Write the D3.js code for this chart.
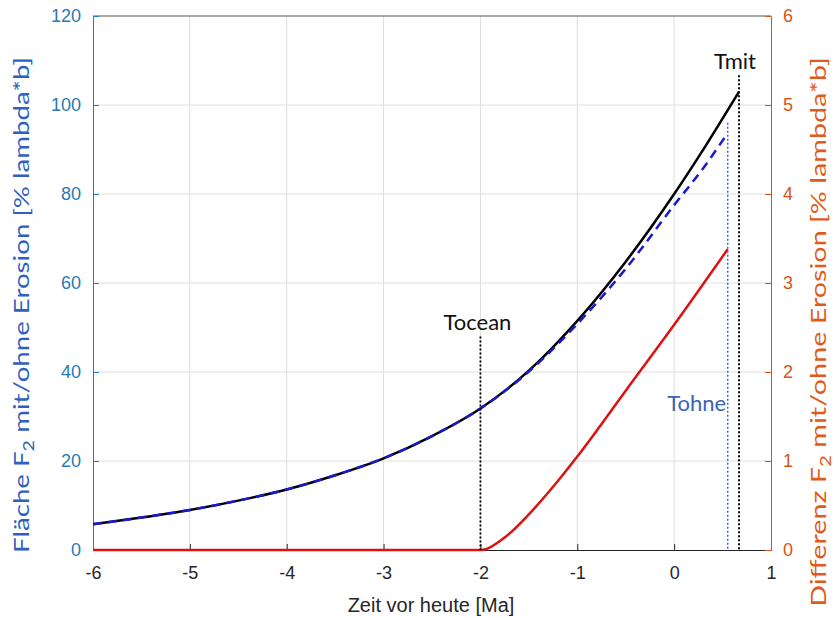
<!DOCTYPE html>
<html>
<head>
<meta charset="utf-8">
<script src="https://cdn.jsdelivr.net/npm/d3@7"></script>
<style>
  body { margin: 0; background: #fff; }
  svg { display: block; }
</style>
</head>
<body>
<svg id="chart" width="833" height="619"></svg>
<script>
// ---- data ----
const xTicks = [-6, -5, -4, -3, -2, -1, 0, 1];
const yLeftTicks = [0, 20, 40, 60, 80, 100, 120];
const yRightTicks = [0, 1, 2, 3, 4, 5, 6];

// Fläche mit Erosion (black, solid)
const mitX = [-6, -5.5, -5, -4.5, -4, -3.5, -3, -2.5, -2, -1.5, -1, -0.5, 0, 0.33, 0.67];
const mitY = [5.8, 7.3, 9.0, 11.1, 13.6, 16.8, 20.6, 25.6, 31.8, 40.3, 51.5, 64.8, 80, 91, 103];

// Fläche ohne Erosion (blue, dashed)
const ohneX = [-6, -5.5, -5, -4.5, -4, -3.5, -3, -2.5, -2, -1.5, -1, -0.5, 0, 0.3, 0.553];
const ohneY = [5.8, 7.3, 9.0, 11.1, 13.6, 16.8, 20.6, 25.6, 31.8, 40.1, 50.8, 63.2, 77.5, 85.8, 93.7];

// Differenz (red, right axis)
const diffX = [-6, -5, -4, -3, -2, -1.75, -1.5, -1.25, -1, -0.5, 0, 0.553];
const diffY = [0, 0, 0, 0, 0, 0.14, 0.40, 0.71, 1.05, 1.79, 2.53, 3.38];

// markers
const markerNames = ["Tocean", "Tohne", "Tmit"];
const markerX = [-2, 0.553, 0.67];
const markerTop = [48, 96, 106.7];   // left-axis units where dotted lines end

// ---- layout ----
const svg = d3.select("#chart");
const L = 93, R = 771, T = 16, B = 550;
const x = d3.scaleLinear().domain([-6, 1]).range([L, R]);
const yL = d3.scaleLinear().domain([0, 120]).range([B, T]);
const yR = d3.scaleLinear().domain([0, 6]).range([B, T]);

const font = "'Liberation Sans', Arial, sans-serif";
const font2 = "Lato, 'Open Sans', sans-serif";
const leftCol = "#2a7ab5";
const rightCol = "#d95319";

// grid
const grid = svg.append("g");
grid.selectAll(".gx").data(xTicks.slice(1, -1)).enter().append("line")
  .attr("x1", d => x(d)).attr("x2", d => x(d)).attr("y1", T).attr("y2", B)
  .attr("stroke", "#dedede").attr("stroke-width", 1);
grid.selectAll(".gy").data(yLeftTicks.slice(1, -1)).enter().append("line")
  .attr("x1", L).attr("x2", R).attr("y1", d => yL(d)).attr("y2", d => yL(d))
  .attr("stroke", "#dedede").attr("stroke-width", 1);

// box top line
svg.append("line").attr("x1", L).attr("x2", R).attr("y1", T).attr("y2", T)
  .attr("stroke", "#555").attr("stroke-width", 1);

// axes
const xAxis = svg.append("g").attr("transform", `translate(0,${B})`)
  .call(d3.axisBottom(x).tickValues(xTicks).tickSize(-6).tickPadding(16).tickFormat(d3.format("d")));
xAxis.select(".domain").attr("stroke", "#262626");
xAxis.selectAll(".tick line").attr("stroke", "#262626");
xAxis.selectAll("text").attr("font-family", font).attr("font-size", 18).attr("fill", "#262626")
  .text(d => d < 0 ? "-" + Math.abs(d) : d);

const yAxisL = svg.append("g").attr("transform", `translate(${L},0)`)
  .call(d3.axisLeft(yL).tickValues(yLeftTicks).tickSize(-6).tickPadding(12).tickFormat(d3.format("d")));
yAxisL.select(".domain").attr("stroke", leftCol);
yAxisL.selectAll(".tick line").attr("stroke", leftCol);
yAxisL.selectAll("text").attr("font-family", font).attr("font-size", 18).attr("fill", leftCol);

const yAxisR = svg.append("g").attr("transform", `translate(${R},0)`)
  .call(d3.axisRight(yR).tickValues(yRightTicks).tickSize(-6).tickPadding(12).tickFormat(d3.format("d")));
yAxisR.select(".domain").attr("stroke", rightCol);
yAxisR.selectAll(".tick line").attr("stroke", rightCol);
yAxisR.selectAll("text").attr("font-family", font).attr("font-size", 18).attr("fill", rightCol);

// curves
const lineL = d3.line().x(d => x(d[0])).y(d => yL(d[1])).curve(d3.curveMonotoneX);
const lineR = d3.line().x(d => x(d[0])).y(d => yR(d[1])).curve(d3.curveMonotoneX);

svg.append("path").datum(diffX.map((v, i) => [v, diffY[i]]))
  .attr("d", lineR).attr("fill", "none").attr("stroke", "#dd1111").attr("stroke-width", 2.5);

svg.append("path").datum(mitX.map((v, i) => [v, mitY[i]]))
  .attr("d", lineL).attr("fill", "none").attr("stroke", "#000").attr("stroke-width", 2.5);

svg.append("path").datum(ohneX.map((v, i) => [v, ohneY[i]]))
  .attr("d", lineL).attr("fill", "none").attr("stroke", "#1a1acc").attr("stroke-width", 2.5)
  .attr("stroke-dasharray", "9,6");

// marker lines
const mColors = ["#000", "#4466cc", "#000"];
const mWidths = [1.8, 1.5, 2];
markerNames.forEach((n, i) => {
  svg.append("line").attr("x1", x(markerX[i])).attr("x2", x(markerX[i]))
    .attr("y1", yL(markerTop[i])).attr("y2", B)
    .attr("stroke", mColors[i]).attr("stroke-width", mWidths[i]).attr("stroke-dasharray", "2,2");
});

// marker labels
svg.append("text").attr("x", x(-2) - 3).attr("y", 330).attr("text-anchor", "middle")
  .attr("font-family", font2).attr("font-size", 22).attr("fill", "#111").text(markerNames[0]);
svg.append("text").attr("x", x(0.553) - 31).attr("y", 411).attr("text-anchor", "middle")
  .attr("font-family", font2).attr("font-size", 22).attr("fill", "#3a62b8").text(markerNames[1]);
svg.append("text").attr("x", x(0.67) - 4).attr("y", 69).attr("text-anchor", "middle")
  .attr("font-family", font2).attr("font-size", 22).attr("fill", "#111").text(markerNames[2]);

// axis titles
svg.append("text").attr("x", 431).attr("y", 612).attr("text-anchor", "middle")
  .attr("font-family", font).attr("font-size", 20).attr("fill", "#262626").text("Zeit vor heute [Ma]");

function vLabel(cx, cy, target, color, parts) {
  const t = svg.append("text").attr("text-anchor", "middle")
    .attr("font-family", font2).attr("font-size", 21).attr("fill", color);
  t.append("tspan").text(parts[0]);
  t.append("tspan").attr("dy", 5).attr("font-size", 15).text("2");
  t.append("tspan").attr("dy", -5).text(parts[1]);
  const len = t.node().getComputedTextLength();
  const s = target / len;
  t.attr("transform", `translate(${cx},${cy}) rotate(-90) scale(${s},1)`);
  return t;
}

vLabel(29, 305, 496, "#2f5fc0", ["Fläche F", "  mit/ohne Erosion [% lambda*b]"]);
vLabel(826, 332, 550, "#e05a1a", ["Differenz F", " mit/ohne Erosion [% lambda*b]"]);
</script>
</body>
</html>
